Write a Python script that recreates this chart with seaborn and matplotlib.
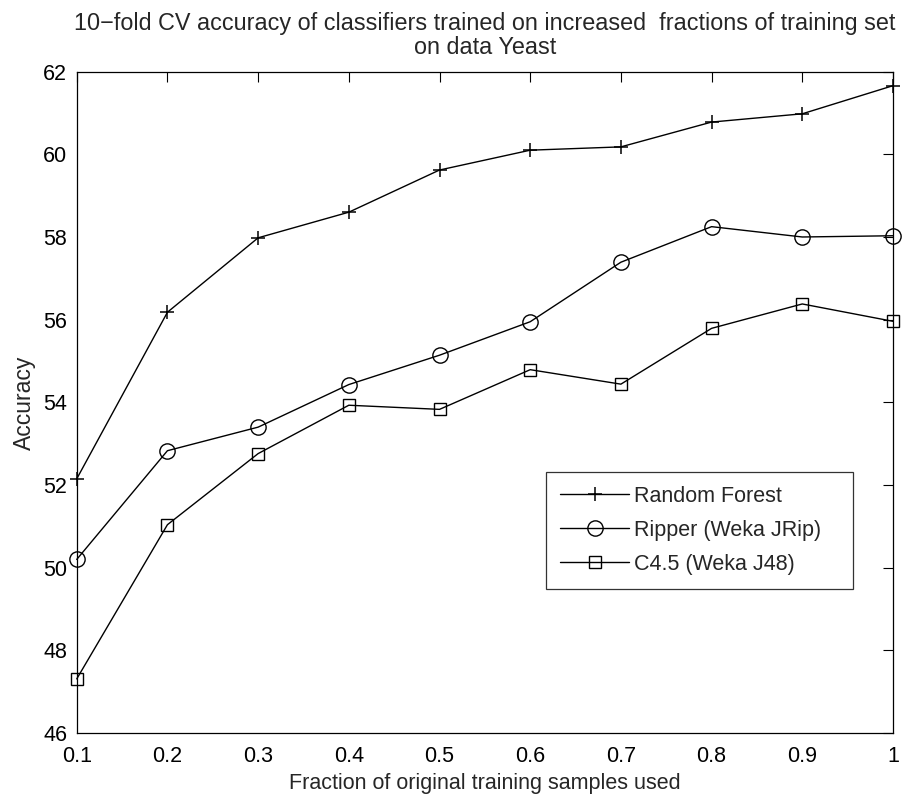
import numpy as np
import pandas as pd
import matplotlib
matplotlib.use("Agg")
import matplotlib.pyplot as plt
import seaborn as sns

# fraction of training set used
fractions = [0.1, 0.2, 0.3, 0.4, 0.5, 0.6, 0.7, 0.8, 0.9, 1.0]

# 10-fold CV accuracy per classifier
acc_rf = [52.15, 56.18, 57.98, 58.60, 59.62, 60.10, 60.18, 60.78, 60.98, 61.66]
acc_ripper = [50.20, 52.83, 53.40, 54.43, 55.14, 55.95, 57.39, 58.25, 58.00, 58.03]
acc_c45 = [47.31, 51.04, 52.76, 53.93, 53.83, 54.79, 54.44, 55.79, 56.38, 55.96]

labels = ["Random Forest", "Ripper (Weka JRip)", "C4.5 (Weka J48)"]
x_ticks = [0.1, 0.2, 0.3, 0.4, 0.5, 0.6, 0.7, 0.8, 0.9, 1]
y_ticks = [46, 48, 50, 52, 54, 56, 58, 60, 62]

sns.set_style("white")
plt.rcParams['font.family'] = ['Liberation Sans', 'DejaVu Sans']

fig = plt.figure(figsize=(9.05, 7.96), dpi=100)
ax = fig.add_axes([0.0848, 0.0791, 0.9019, 0.8309])

series = [
    (acc_rf, '+', dict(markersize=10, markeredgewidth=1.1)),
    (acc_ripper, 'o', dict(markersize=11, markerfacecolor='none',
                           markeredgewidth=1.0)),
    (acc_c45, 's', dict(markersize=8.5, markerfacecolor='none',
                        markeredgewidth=1.0)),
]
for (vals, mk, kw), lab in zip(series, labels):
    sns.lineplot(x=fractions, y=vals, ax=ax, color='black', linewidth=1.0,
                 marker=mk, markeredgecolor='black', label=lab,
                 clip_on=False, zorder=3, **kw)

ax.set_xlim(0.1, 1.0)
ax.set_ylim(46, 62)
ax.set_xticks(x_ticks)
ax.set_xticklabels([str(t) for t in x_ticks])
ax.set_yticks(y_ticks)
ax.tick_params(direction='in', top=True, right=True, length=7,
               width=0.8, labelsize=15.5, colors='black')
ax.tick_params(axis='x', pad=9)
ax.tick_params(axis='y', pad=7)
for sp in ax.spines.values():
    sp.set_color('black')
    sp.set_linewidth(0.9)

ax.set_xlabel("Fraction of original training samples used", fontsize=15.5,
              labelpad=5)
ax.set_ylabel("Accuracy", fontsize=16.5, labelpad=5)
ax.set_title("10\u2212fold CV accuracy of classifiers trained on increased  "
             "fractions of training set\non data Yeast", fontsize=16.8, pad=13,
             linespacing=1.05)

leg = ax.legend(loc='upper left', bbox_to_anchor=(0.575, 0.395, 0.376, 0.0),
                mode='expand', fontsize=15.5, frameon=True, fancybox=False,
                handlelength=3.2, borderpad=0.65, labelspacing=0.6,
                handletextpad=0.25, borderaxespad=0)
leg.get_frame().set_edgecolor('black')
leg.get_frame().set_linewidth(0.9)

fig.savefig("out.png", dpi=100)
